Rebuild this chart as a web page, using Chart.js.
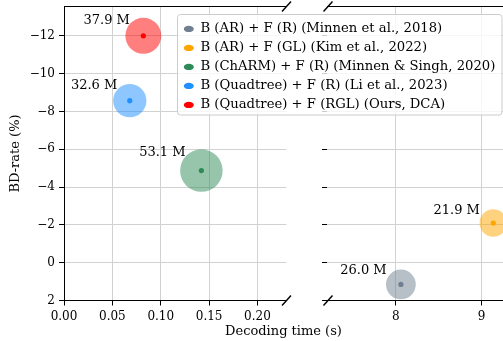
<!DOCTYPE html>
<html lang="en">
<head>
<meta charset="UTF-8">
<title>BD-rate vs decoding time</title>
<script src="https://cdn.jsdelivr.net/npm/chart.js"></script>
<style>
  html, body { margin: 0; padding: 0; background: #fff; overflow: hidden; }
  #wrap { position: relative; width: 503px; height: 341px; overflow: hidden; }
  #wrap canvas { position: absolute; left: 0; top: 0; }
</style>
</head>
<body>
<div id="wrap">
  <canvas id="leftChart" width="510" height="341"></canvas>
  <canvas id="rightChart" width="510" height="341"></canvas>
</div>
<script>
// data
const methods = [
  'B (AR) + F (R) (Minnen et al., 2018)',
  'B (AR) + F (GL) (Kim et al., 2022)',
  'B (ChARM) + F (R) (Minnen & Singh, 2020)',
  'B (Quadtree) + F (R) (Li et al., 2023)',
  'B (Quadtree) + F (RGL) (Ours, DCA)'
];
const colors = ['#708090', '#ffa500', '#2e8b57', '#1e90ff', '#ff0000'];
const decodeTime = [8.06, 9.135, 0.142, 0.068, 0.082];   // seconds
const bdRate = [1.15, -2.1, -4.87, -8.57, -12.0];         // %
const paramsM = [26.0, 21.9, 53.1, 32.6, 37.9];           // model size, M

// axis limits (broken x axis)
const leftX = [0, 0.23];
const rightX = [7.2, 9.33];
const yRange = [-13.55, 2];

const AREA_PER_M = 8.5;   // bubble area (px^2) per million params
const GRID = '#d2d2d2';
Chart.defaults.font.family = '"DejaVu Serif", serif';
Chart.defaults.color = '#000';

function alpha(hex, a) {
  const n = parseInt(hex.slice(1), 16);
  return `rgba(${n >> 16}, ${(n >> 8) & 255}, ${n & 255}, ${a})`;
}

function buildDatasets(inPanel) {
  const dots = [], bubbles = [];
  methods.forEach((m, i) => {
    const keep = inPanel(decodeTime[i]);
    dots.push({
      label: m, order: 0,
      data: keep ? [{x: decodeTime[i], y: bdRate[i], r: 2.6}] : [],
      backgroundColor: colors[i], borderWidth: 0
    });
    bubbles.push({
      label: m, order: 1, sizeLabel: paramsM[i].toFixed(1) + ' M',
      data: keep ? [{x: decodeTime[i], y: bdRate[i], r: Math.sqrt(paramsM[i] * AREA_PER_M)}] : [],
      backgroundColor: alpha(colors[i], 0.5), borderWidth: 0
    });
  });
  return dots.concat(bubbles);
}

const fmtY = v => (v < 0 ? '\u2212' + Math.abs(v) : String(v));

// "37.9 M" labels up-left of each bubble
function bubbleLabels(extraX) {
  return {
    id: 'bubbleLabels',
    afterDatasetsDraw(chart) {
      const ctx = chart.ctx;
      ctx.save();
      ctx.font = '13px "DejaVu Serif"';
      ctx.fillStyle = '#000';
      ctx.textAlign = 'right';
      ctx.textBaseline = 'alphabetic';
      chart.data.datasets.forEach((ds, i) => {
        if (!ds.sizeLabel) return;
        chart.getDatasetMeta(i).data.forEach(el => {
          const r = el.options.radius;
          ctx.fillText(ds.sizeLabel, el.x - 0.72 * r - extraX, el.y - 0.68 * r);
        });
      });
      ctx.restore();
    }
  };
}

// top spine + the diagonal break marks
function frame(side) {
  return {
    id: 'frame',
    afterDraw(chart) {
      const {ctx, chartArea: a} = chart;
      ctx.save();
      ctx.strokeStyle = '#000';
      ctx.lineWidth = 1;
      ctx.beginPath();
      ctx.moveTo(a.left, a.top);
      ctx.lineTo(a.right, a.top);
      ctx.stroke();
      const cx = side === 'right' ? a.right : a.left + 1;
      ctx.lineWidth = 1.4;
      [a.top, a.bottom].forEach(cy => {
        ctx.beginPath();
        ctx.moveTo(cx - 4.5, cy + 5);
        ctx.lineTo(cx + 4.5, cy - 5);
        ctx.stroke();
      });
      ctx.restore();
    }
  };
}

// put the legend box where matplotlib had it, spanning both panels
const legendBox = {
  id: 'legendBox',
  afterLayout(chart) {
    const lg = chart.legend;
    Object.assign(lg, {left: 178, top: 16.5, right: 503, bottom: 150});
    lg.width = lg.right - lg.left;
    lg.height = lg.bottom - lg.top;
    if (!lg._framed) {
      const baseDraw = lg.draw;
      lg.draw = function (area) {
        const ctx = this.ctx;
        ctx.save();
        ctx.beginPath();
        ctx.roundRect(177.5, 14.5, 324.5, 100.5, 3);
        ctx.fillStyle = 'rgba(255,255,255,0.8)';
        ctx.fill();
        ctx.strokeStyle = '#cccccc';
        ctx.lineWidth = 1;
        ctx.stroke();
        ctx.restore();
        baseDraw.call(this, area);
      };
      lg._framed = true;
    }
  }
};

function xAxis(range, step, fmt, height) {
  return {
    type: 'linear', min: range[0], max: range[1],
    ticks: { stepSize: step, includeBounds: false, padding: 4, font: {size: 12}, callback: fmt },
    grid: { color: GRID, tickColor: '#000', tickLength: 5 },
    border: { color: '#000', width: 1 },
    afterFit: s => { s.height = height; s.paddingLeft = s.paddingRight = 0; }
  };
}

function yAxis(width, showLabels) {
  return {
    reverse: true, min: yRange[0], max: yRange[1],
    ticks: { stepSize: 2, includeBounds: false, padding: 4, font: {size: 12}, display: showLabels, callback: fmtY },
    grid: { color: GRID, tickColor: '#000', tickLength: 5 },
    border: { display: showLabels, color: '#000', width: 1 },
    title: { display: showLabels, text: 'BD-rate (%)', font: {size: 13}, padding: {top: 8, bottom: 0} },
    afterFit: s => { s.width = width; s.paddingTop = s.paddingBottom = 0; }
  };
}

const common = { responsive: false, animation: false, devicePixelRatio: 1, events: [] };

new Chart(document.getElementById('leftChart'), {
  type: 'bubble',
  data: { datasets: buildDatasets(t => t < 1) },
  options: {
    ...common,
    layout: { autoPadding: false, padding: { top: 6.5, right: 223.5, left: 0, bottom: 0 } },
    scales: {
      x: xAxis(leftX, 0.05, v => v.toFixed(2), 40.5),
      y: yAxis(64, true)
    },
    plugins: { legend: { display: false }, title: { display: false } }
  },
  plugins: [bubbleLabels(0.5), frame('right')]
});

new Chart(document.getElementById('rightChart'), {
  type: 'bubble',
  data: { datasets: buildDatasets(t => t >= 1) },
  options: {
    ...common,
    layout: { autoPadding: false, padding: { top: 6.5, right: 0, left: 57, bottom: 0 } },
    scales: {
      x: xAxis(rightX, 1, v => String(v), 22.9),
      y: yAxis(270, false)
    },
    plugins: {
      title: {
        display: true, position: 'bottom', text: 'Decoding time (s)',
        font: {size: 13, weight: 'normal'}, padding: {top: 0, bottom: 2}, color: '#000'
      },
      legend: {
        display: true, position: 'chartArea', align: 'start',
        labels: {
          usePointStyle: true, pointStyle: 'circle', pointStyleWidth: 10, boxWidth: 10, boxHeight: 4.5,
          padding: 5.8, font: {size: 13.2}, color: '#000',
          filter: item => item.datasetIndex < methods.length
        }
      }
    }
  },
  plugins: [bubbleLabels(3.5), frame('left'), legendBox]
});
</script>
</body>
</html>
